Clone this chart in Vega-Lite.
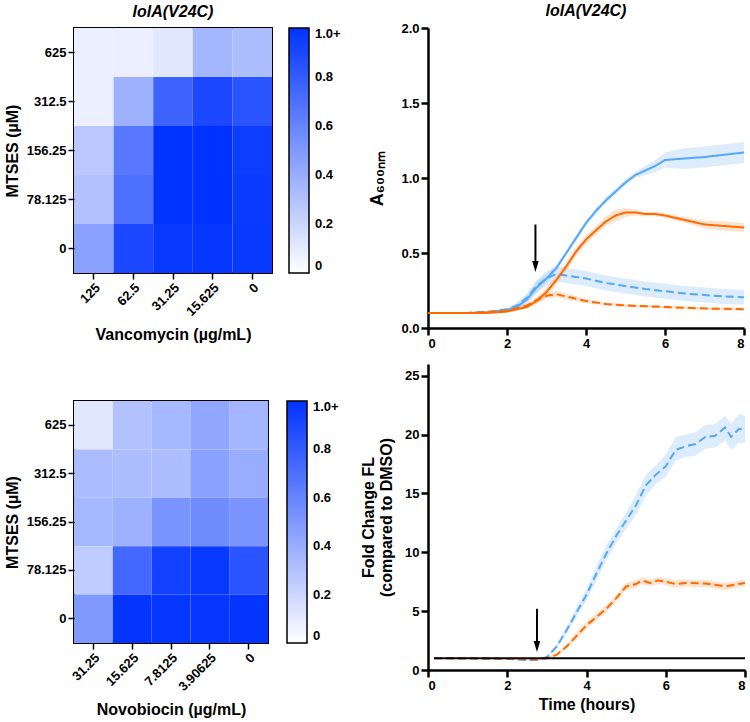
{
  "$schema": "https://vega.github.io/schema/vega-lite/v6.json",
  "padding": {"left": 3, "top": 3, "right": 0, "bottom": 3},
  "background": "white",
  "config": {
    "font": "Liberation Sans",
    "axis": {
      "labelFont": "Liberation Sans", "labelFontWeight": "bold", "labelFontSize": 13, "labelColor": "black",
      "titleFont": "Liberation Sans", "titleFontWeight": "bold", "titleFontSize": 16, "titleColor": "black",
      "tickColor": "black", "domainColor": "black", "grid": false
    },
    "title": {"font": "Liberation Sans", "fontSize": 16, "fontWeight": "bold", "fontStyle": "italic", "color": "black", "frame": "group"},
    "legend": {"labelFont": "Liberation Sans", "labelFontWeight": "bold", "labelFontSize": 13, "labelColor": "black"}
  },
  "datasets": {
    "heat1": [
      {"mtses": "625", "drug": "125", "v": 0.08}, {"mtses": "625", "drug": "62.5", "v": 0.08}, {"mtses": "625", "drug": "31.25", "v": 0.12}, {"mtses": "625", "drug": "15.625", "v": 0.36}, {"mtses": "625", "drug": "0", "v": 0.32},
      {"mtses": "312.5", "drug": "125", "v": 0.08}, {"mtses": "312.5", "drug": "62.5", "v": 0.38}, {"mtses": "312.5", "drug": "31.25", "v": 0.76}, {"mtses": "312.5", "drug": "15.625", "v": 0.9}, {"mtses": "312.5", "drug": "0", "v": 0.84},
      {"mtses": "156.25", "drug": "125", "v": 0.27}, {"mtses": "156.25", "drug": "62.5", "v": 0.66}, {"mtses": "156.25", "drug": "31.25", "v": 1.0}, {"mtses": "156.25", "drug": "15.625", "v": 1.0}, {"mtses": "156.25", "drug": "0", "v": 0.95},
      {"mtses": "78.125", "drug": "125", "v": 0.3}, {"mtses": "78.125", "drug": "62.5", "v": 0.7}, {"mtses": "78.125", "drug": "31.25", "v": 1.0}, {"mtses": "78.125", "drug": "15.625", "v": 1.0}, {"mtses": "78.125", "drug": "0", "v": 0.96},
      {"mtses": "0", "drug": "125", "v": 0.46}, {"mtses": "0", "drug": "62.5", "v": 0.9}, {"mtses": "0", "drug": "31.25", "v": 0.97}, {"mtses": "0", "drug": "15.625", "v": 0.98}, {"mtses": "0", "drug": "0", "v": 0.97}
    ],
    "heat2": [
      {"mtses": "625", "drug": "31.25", "v": 0.12}, {"mtses": "625", "drug": "15.625", "v": 0.3}, {"mtses": "625", "drug": "7.8125", "v": 0.35}, {"mtses": "625", "drug": "3.90625", "v": 0.43}, {"mtses": "625", "drug": "0", "v": 0.36},
      {"mtses": "312.5", "drug": "31.25", "v": 0.33}, {"mtses": "312.5", "drug": "15.625", "v": 0.32}, {"mtses": "312.5", "drug": "7.8125", "v": 0.32}, {"mtses": "312.5", "drug": "3.90625", "v": 0.46}, {"mtses": "312.5", "drug": "0", "v": 0.4},
      {"mtses": "156.25", "drug": "31.25", "v": 0.35}, {"mtses": "156.25", "drug": "15.625", "v": 0.38}, {"mtses": "156.25", "drug": "7.8125", "v": 0.52}, {"mtses": "156.25", "drug": "3.90625", "v": 0.56}, {"mtses": "156.25", "drug": "0", "v": 0.52},
      {"mtses": "78.125", "drug": "31.25", "v": 0.25}, {"mtses": "78.125", "drug": "15.625", "v": 0.74}, {"mtses": "78.125", "drug": "7.8125", "v": 0.93}, {"mtses": "78.125", "drug": "3.90625", "v": 0.97}, {"mtses": "78.125", "drug": "0", "v": 0.84},
      {"mtses": "0", "drug": "31.25", "v": 0.5}, {"mtses": "0", "drug": "15.625", "v": 0.99}, {"mtses": "0", "drug": "7.8125", "v": 0.98}, {"mtses": "0", "drug": "3.90625", "v": 0.98}, {"mtses": "0", "drug": "0", "v": 0.99}
    ],
    "od": [
      {"s": "bs", "t": 0, "y": 0.10, "lo": 0.095, "hi": 0.105}, {"s": "bs", "t": 1, "y": 0.10, "lo": 0.095, "hi": 0.105}, {"s": "bs", "t": 1.5, "y": 0.105, "lo": 0.1, "hi": 0.11}, {"s": "bs", "t": 2, "y": 0.12, "lo": 0.11, "hi": 0.13}, {"s": "bs", "t": 2.25, "y": 0.14, "lo": 0.12, "hi": 0.16}, {"s": "bs", "t": 2.5, "y": 0.19, "lo": 0.16, "hi": 0.22}, {"s": "bs", "t": 2.75, "y": 0.27, "lo": 0.23, "hi": 0.31}, {"s": "bs", "t": 3, "y": 0.33, "lo": 0.3, "hi": 0.36}, {"s": "bs", "t": 3.25, "y": 0.4, "lo": 0.38, "hi": 0.42}, {"s": "bs", "t": 3.5, "y": 0.5, "lo": 0.48, "hi": 0.52}, {"s": "bs", "t": 3.75, "y": 0.6, "lo": 0.58, "hi": 0.62}, {"s": "bs", "t": 4, "y": 0.7, "lo": 0.68, "hi": 0.72}, {"s": "bs", "t": 4.25, "y": 0.78, "lo": 0.76, "hi": 0.8}, {"s": "bs", "t": 4.5, "y": 0.85, "lo": 0.83, "hi": 0.87}, {"s": "bs", "t": 4.75, "y": 0.91, "lo": 0.89, "hi": 0.93}, {"s": "bs", "t": 5, "y": 0.97, "lo": 0.95, "hi": 0.99}, {"s": "bs", "t": 5.25, "y": 1.02, "lo": 1.0, "hi": 1.04}, {"s": "bs", "t": 5.5, "y": 1.05, "lo": 1.02, "hi": 1.08}, {"s": "bs", "t": 5.75, "y": 1.08, "lo": 1.04, "hi": 1.12}, {"s": "bs", "t": 6, "y": 1.12, "lo": 1.07, "hi": 1.17}, {"s": "bs", "t": 6.5, "y": 1.13, "lo": 1.06, "hi": 1.2}, {"s": "bs", "t": 7, "y": 1.14, "lo": 1.07, "hi": 1.21}, {"s": "bs", "t": 7.5, "y": 1.155, "lo": 1.085, "hi": 1.225}, {"s": "bs", "t": 8, "y": 1.17, "lo": 1.1, "hi": 1.24},
      {"s": "bd", "t": 0, "y": 0.10, "lo": 0.095, "hi": 0.105}, {"s": "bd", "t": 1, "y": 0.10, "lo": 0.095, "hi": 0.105}, {"s": "bd", "t": 1.5, "y": 0.105, "lo": 0.1, "hi": 0.11}, {"s": "bd", "t": 2, "y": 0.125, "lo": 0.115, "hi": 0.135}, {"s": "bd", "t": 2.25, "y": 0.15, "lo": 0.13, "hi": 0.17}, {"s": "bd", "t": 2.5, "y": 0.2, "lo": 0.17, "hi": 0.23}, {"s": "bd", "t": 2.75, "y": 0.28, "lo": 0.24, "hi": 0.32}, {"s": "bd", "t": 3, "y": 0.33, "lo": 0.28, "hi": 0.38}, {"s": "bd", "t": 3.25, "y": 0.36, "lo": 0.31, "hi": 0.41}, {"s": "bd", "t": 3.5, "y": 0.35, "lo": 0.3, "hi": 0.4}, {"s": "bd", "t": 4, "y": 0.33, "lo": 0.28, "hi": 0.38}, {"s": "bd", "t": 4.5, "y": 0.3, "lo": 0.25, "hi": 0.35}, {"s": "bd", "t": 5, "y": 0.28, "lo": 0.23, "hi": 0.33}, {"s": "bd", "t": 5.5, "y": 0.26, "lo": 0.21, "hi": 0.31}, {"s": "bd", "t": 6, "y": 0.245, "lo": 0.195, "hi": 0.295}, {"s": "bd", "t": 6.5, "y": 0.23, "lo": 0.18, "hi": 0.28}, {"s": "bd", "t": 7, "y": 0.22, "lo": 0.17, "hi": 0.27}, {"s": "bd", "t": 7.5, "y": 0.21, "lo": 0.16, "hi": 0.26}, {"s": "bd", "t": 8, "y": 0.205, "lo": 0.155, "hi": 0.255},
      {"s": "os", "t": 0, "y": 0.10, "lo": 0.095, "hi": 0.105}, {"s": "os", "t": 1, "y": 0.10, "lo": 0.095, "hi": 0.105}, {"s": "os", "t": 1.5, "y": 0.10, "lo": 0.095, "hi": 0.105}, {"s": "os", "t": 2, "y": 0.11, "lo": 0.1, "hi": 0.12}, {"s": "os", "t": 2.5, "y": 0.14, "lo": 0.13, "hi": 0.15}, {"s": "os", "t": 2.75, "y": 0.18, "lo": 0.16, "hi": 0.2}, {"s": "os", "t": 3, "y": 0.24, "lo": 0.21, "hi": 0.27}, {"s": "os", "t": 3.25, "y": 0.32, "lo": 0.29, "hi": 0.35}, {"s": "os", "t": 3.5, "y": 0.41, "lo": 0.38, "hi": 0.44}, {"s": "os", "t": 3.75, "y": 0.51, "lo": 0.48, "hi": 0.54}, {"s": "os", "t": 4, "y": 0.59, "lo": 0.56, "hi": 0.62}, {"s": "os", "t": 4.25, "y": 0.65, "lo": 0.62, "hi": 0.68}, {"s": "os", "t": 4.5, "y": 0.71, "lo": 0.68, "hi": 0.74}, {"s": "os", "t": 4.75, "y": 0.75, "lo": 0.71, "hi": 0.79}, {"s": "os", "t": 5, "y": 0.77, "lo": 0.74, "hi": 0.8}, {"s": "os", "t": 5.25, "y": 0.77, "lo": 0.75, "hi": 0.79}, {"s": "os", "t": 5.5, "y": 0.76, "lo": 0.745, "hi": 0.775}, {"s": "os", "t": 5.75, "y": 0.76, "lo": 0.745, "hi": 0.775}, {"s": "os", "t": 6, "y": 0.75, "lo": 0.735, "hi": 0.765}, {"s": "os", "t": 6.5, "y": 0.72, "lo": 0.7, "hi": 0.74}, {"s": "os", "t": 7, "y": 0.69, "lo": 0.665, "hi": 0.715}, {"s": "os", "t": 7.5, "y": 0.68, "lo": 0.65, "hi": 0.71}, {"s": "os", "t": 8, "y": 0.67, "lo": 0.64, "hi": 0.7},
      {"s": "odash", "t": 0, "y": 0.10, "lo": 0.095, "hi": 0.105}, {"s": "odash", "t": 1, "y": 0.10, "lo": 0.095, "hi": 0.105}, {"s": "odash", "t": 2, "y": 0.115, "lo": 0.105, "hi": 0.125}, {"s": "odash", "t": 2.5, "y": 0.15, "lo": 0.14, "hi": 0.16}, {"s": "odash", "t": 2.75, "y": 0.185, "lo": 0.165, "hi": 0.205}, {"s": "odash", "t": 3, "y": 0.215, "lo": 0.195, "hi": 0.235}, {"s": "odash", "t": 3.25, "y": 0.225, "lo": 0.205, "hi": 0.245}, {"s": "odash", "t": 3.5, "y": 0.21, "lo": 0.19, "hi": 0.23}, {"s": "odash", "t": 4, "y": 0.18, "lo": 0.165, "hi": 0.195}, {"s": "odash", "t": 4.5, "y": 0.16, "lo": 0.15, "hi": 0.17}, {"s": "odash", "t": 5, "y": 0.15, "lo": 0.14, "hi": 0.16}, {"s": "odash", "t": 6, "y": 0.14, "lo": 0.13, "hi": 0.15}, {"s": "odash", "t": 7, "y": 0.13, "lo": 0.12, "hi": 0.14}, {"s": "odash", "t": 8, "y": 0.125, "lo": 0.115, "hi": 0.135}
    ],
    "fl": [
      {"s": "bd", "t": 0.15, "y": 1.0, "lo": 1.0, "hi": 1.0}, {"s": "bd", "t": 1, "y": 1.0, "lo": 0.95, "hi": 1.05}, {"s": "bd", "t": 2, "y": 0.95, "lo": 0.9, "hi": 1.0}, {"s": "bd", "t": 2.5, "y": 0.85, "lo": 0.8, "hi": 0.9}, {"s": "bd", "t": 2.75, "y": 0.85, "lo": 0.8, "hi": 0.9}, {"s": "bd", "t": 3, "y": 1.1, "lo": 1.0, "hi": 1.2}, {"s": "bd", "t": 3.25, "y": 2.0, "lo": 1.8, "hi": 2.2}, {"s": "bd", "t": 3.5, "y": 3.4, "lo": 3.1, "hi": 3.7}, {"s": "bd", "t": 3.75, "y": 4.9, "lo": 4.5, "hi": 5.3}, {"s": "bd", "t": 4, "y": 6.4, "lo": 5.9, "hi": 6.9}, {"s": "bd", "t": 4.25, "y": 8.2, "lo": 7.6, "hi": 8.8}, {"s": "bd", "t": 4.5, "y": 9.9, "lo": 9.3, "hi": 10.6}, {"s": "bd", "t": 4.75, "y": 11.4, "lo": 10.8, "hi": 12.0}, {"s": "bd", "t": 5, "y": 12.7, "lo": 12.0, "hi": 13.4}, {"s": "bd", "t": 5.25, "y": 14.0, "lo": 13.2, "hi": 14.9}, {"s": "bd", "t": 5.5, "y": 15.7, "lo": 14.8, "hi": 16.6}, {"s": "bd", "t": 5.75, "y": 16.6, "lo": 15.8, "hi": 17.4}, {"s": "bd", "t": 6, "y": 17.3, "lo": 16.4, "hi": 18.3}, {"s": "bd", "t": 6.25, "y": 18.7, "lo": 17.8, "hi": 19.8}, {"s": "bd", "t": 6.5, "y": 19.0, "lo": 18.1, "hi": 20.0}, {"s": "bd", "t": 6.75, "y": 19.2, "lo": 18.2, "hi": 20.2}, {"s": "bd", "t": 7, "y": 19.8, "lo": 18.8, "hi": 20.8}, {"s": "bd", "t": 7.25, "y": 19.9, "lo": 18.9, "hi": 20.9}, {"s": "bd", "t": 7.5, "y": 20.6, "lo": 19.5, "hi": 21.6}, {"s": "bd", "t": 7.65, "y": 19.8, "lo": 18.7, "hi": 20.9}, {"s": "bd", "t": 7.85, "y": 20.5, "lo": 19.3, "hi": 21.8}, {"s": "bd", "t": 8, "y": 20.4, "lo": 19.3, "hi": 21.6},
      {"s": "odash", "t": 0.15, "y": 1.0, "lo": 1.0, "hi": 1.0}, {"s": "odash", "t": 2, "y": 0.95, "lo": 0.9, "hi": 1.0}, {"s": "odash", "t": 2.75, "y": 0.9, "lo": 0.85, "hi": 0.95}, {"s": "odash", "t": 3, "y": 1.0, "lo": 0.9, "hi": 1.1}, {"s": "odash", "t": 3.25, "y": 1.3, "lo": 1.15, "hi": 1.45}, {"s": "odash", "t": 3.5, "y": 2.0, "lo": 1.8, "hi": 2.2}, {"s": "odash", "t": 3.75, "y": 2.9, "lo": 2.6, "hi": 3.2}, {"s": "odash", "t": 4, "y": 3.8, "lo": 3.5, "hi": 4.1}, {"s": "odash", "t": 4.25, "y": 4.5, "lo": 4.2, "hi": 4.8}, {"s": "odash", "t": 4.5, "y": 5.2, "lo": 4.9, "hi": 5.5}, {"s": "odash", "t": 4.75, "y": 6.1, "lo": 5.8, "hi": 6.4}, {"s": "odash", "t": 5, "y": 7.1, "lo": 6.8, "hi": 7.4}, {"s": "odash", "t": 5.25, "y": 7.3, "lo": 7.0, "hi": 7.6}, {"s": "odash", "t": 5.4, "y": 7.6, "lo": 7.3, "hi": 7.9}, {"s": "odash", "t": 5.6, "y": 7.4, "lo": 7.1, "hi": 7.7}, {"s": "odash", "t": 5.8, "y": 7.6, "lo": 7.3, "hi": 7.9}, {"s": "odash", "t": 6, "y": 7.5, "lo": 7.2, "hi": 7.8}, {"s": "odash", "t": 6.25, "y": 7.3, "lo": 7.0, "hi": 7.6}, {"s": "odash", "t": 6.5, "y": 7.4, "lo": 7.1, "hi": 7.7}, {"s": "odash", "t": 7, "y": 7.35, "lo": 7.05, "hi": 7.65}, {"s": "odash", "t": 7.5, "y": 7.1, "lo": 6.8, "hi": 7.4}, {"s": "odash", "t": 8, "y": 7.4, "lo": 7.1, "hi": 7.7},
      {"s": "dmso", "t": 0.15, "y": 1.0, "lo": 1.0, "hi": 1.0}, {"s": "dmso", "t": 8, "y": 1.0, "lo": 1.0, "hi": 1.0}
    ],
    "arrow1": [{"t": 2.72, "top": 0.69, "head": 0.41}],
    "arrow2": [{"t": 2.75, "top": 5.2, "head": 2.0}]
  },
  "hconcat": [
    {
      "vconcat": [
        {
          "data": {"name": "heat1"},
          "title": {"text": "lolA(V24C)", "offset": 8},
          "width": 198, "height": 245,
          "view": {"stroke": "black", "strokeWidth": 2},
          "mark": {"type": "rect"},
          "encoding": {
            "x": {"field": "drug", "type": "ordinal", "sort": ["125", "62.5", "31.25", "15.625", "0"], "scale": {"paddingInner": 0, "paddingOuter": 0},
              "axis": {"title": "Vancomycin (µg/mL)", "labelAngle": -45, "domain": false, "tickSize": 6, "tickWidth": 1.5, "labelPadding": 2, "titlePadding": 8}},
            "y": {"field": "mtses", "type": "ordinal", "sort": ["625", "312.5", "156.25", "78.125", "0"], "scale": {"paddingInner": 0, "paddingOuter": 0},
              "axis": {"title": "MTSES (µM)", "domain": false, "tickSize": 6, "tickWidth": 1.5, "labelPadding": 2, "titlePadding": 6}},
            "color": {"field": "v", "type": "quantitative", "scale": {"domain": [0, 1], "range": ["#ffffff", "#0033ff"], "interpolate": "rgb"},
              "legend": {"title": null, "orient": "right", "offset": 17, "gradientLength": 245, "gradientThickness": 20, "gradientStrokeColor": "black", "gradientStrokeWidth": 1.5, "values": [0, 0.2, 0.4, 0.6, 0.8, 1], "labelExpr": "datum.value == 1 ? '1.0+' : (datum.value == 0 ? '0' : format(datum.value, '.1f'))", "labelOffset": 6}}
          }
        },
        {
          "data": {"name": "heat2"},
          "width": 194, "height": 242,
          "view": {"stroke": "black", "strokeWidth": 2},
          "mark": {"type": "rect"},
          "encoding": {
            "x": {"field": "drug", "type": "ordinal", "sort": ["31.25", "15.625", "7.8125", "3.90625", "0"], "scale": {"paddingInner": 0, "paddingOuter": 0},
              "axis": {"title": "Novobiocin (µg/mL)", "labelAngle": -45, "domain": false, "tickSize": 6, "tickWidth": 1.5, "labelPadding": 2, "titlePadding": 8}},
            "y": {"field": "mtses", "type": "ordinal", "sort": ["625", "312.5", "156.25", "78.125", "0"], "scale": {"paddingInner": 0, "paddingOuter": 0},
              "axis": {"title": "MTSES (µM)", "domain": false, "tickSize": 6, "tickWidth": 1.5, "labelPadding": 2, "titlePadding": 6}},
            "color": {"field": "v", "type": "quantitative", "scale": {"domain": [0, 1], "range": ["#ffffff", "#0033ff"], "interpolate": "rgb"},
              "legend": {"title": null, "orient": "right", "offset": 19, "gradientLength": 242, "gradientThickness": 20, "gradientStrokeColor": "black", "gradientStrokeWidth": 1.5, "values": [0, 0.2, 0.4, 0.6, 0.8, 1], "labelExpr": "datum.value == 1 ? '1.0+' : (datum.value == 0 ? '0' : format(datum.value, '.1f'))", "labelOffset": 6}}
          }
        }
      ],
      "spacing": 56,
      "resolve": {"scale": {"color": "independent"}, "legend": {"color": "independent"}}
    },
    {
      "vconcat": [
        {
          "title": {"text": "lolA(V24C)", "offset": 3},
          "width": 316, "height": 300,
          "view": {"stroke": null},
          "layer": [
            {
              "data": {"name": "od"},
              "mark": {"type": "area", "opacity": 0.3},
              "encoding": {
                "x": {"field": "t", "type": "quantitative", "scale": {"domain": [0, 8]}, "axis": {"values": [0, 2, 4, 6, 8], "title": null, "domainWidth": 2.5, "tickWidth": 2.5, "tickSize": 7, "labelPadding": 2}},
                "y": {"field": "lo", "type": "quantitative", "scale": {"domain": [0, 2]}, "axis": {"values": [0, 0.5, 1, 1.5, 2], "format": ".1f", "title": "A₆₀₀ₙₘ", "titleFontSize": 18, "domainWidth": 2.5, "tickWidth": 2.5, "tickSize": 7, "labelPadding": 2, "titlePadding": 14}},
                "y2": {"field": "hi"},
                "detail": {"field": "s"},
                "color": {"field": "s", "type": "nominal", "scale": {"domain": ["bs", "bd", "os", "odash"], "range": ["#8fc1f5", "#8fc1f5", "#f7a35a", "#f7a35a"]}, "legend": null}
              }
            },
            {
              "data": {"name": "od"},
              "mark": {"type": "line", "strokeWidth": 2},
              "encoding": {
                "x": {"field": "t", "type": "quantitative"},
                "y": {"field": "y", "type": "quantitative"},
                "stroke": {"field": "s", "type": "nominal", "scale": {"domain": ["bs", "bd", "os", "odash"], "range": ["#55a8f5", "#55a8f5", "#ff6a00", "#ff6a00"]}, "legend": null},
                "strokeDash": {"field": "s", "type": "nominal", "scale": {"domain": ["bs", "bd", "os", "odash"], "range": [[1, 0], [8, 4], [1, 0], [8, 4]]}, "legend": null}
              }
            },
            {
              "data": {"name": "arrow1"},
              "mark": {"type": "rule", "strokeWidth": 2, "color": "black"},
              "encoding": {"x": {"field": "t", "type": "quantitative"}, "y": {"field": "top", "type": "quantitative"}, "y2": {"field": "head"}}
            },
            {
              "data": {"name": "arrow1"},
              "mark": {"type": "point", "shape": "M-0.6,-1L0.6,-1L0,1Z", "filled": true, "color": "black", "size": 121, "opacity": 1},
              "encoding": {"x": {"field": "t", "type": "quantitative"}, "y": {"field": "head", "type": "quantitative"}}
            }
          ],
          "resolve": {"scale": {"color": "independent", "stroke": "independent"}}
        },
        {
          "width": 317, "height": 306,
          "view": {"stroke": null},
          "layer": [
            {
              "data": {"name": "fl"},
              "mark": {"type": "area", "opacity": 0.3},
              "encoding": {
                "x": {"field": "t", "type": "quantitative", "scale": {"domain": [0, 8]}, "axis": {"values": [0, 2, 4, 6, 8], "title": "Time (hours)", "domainWidth": 2.5, "tickWidth": 2.5, "tickSize": 7, "labelPadding": 2, "titlePadding": 4}},
                "y": {"field": "lo", "type": "quantitative", "scale": {"domain": [0, 25]}, "axis": {"values": [0, 5, 10, 15, 20, 25], "title": ["Fold Change FL", "(compared to DMSO)"], "domainWidth": 2.5, "tickWidth": 2.5, "tickSize": 7, "labelPadding": 2, "titlePadding": 10}},
                "y2": {"field": "hi"},
                "detail": {"field": "s"},
                "color": {"field": "s", "type": "nominal", "scale": {"domain": ["bd", "odash", "dmso"], "range": ["#8fc1f5", "#f7a35a", "#ffffff"]}, "legend": null}
              }
            },
            {
              "data": {"name": "fl"},
              "mark": {"type": "line", "strokeWidth": 2},
              "encoding": {
                "x": {"field": "t", "type": "quantitative"},
                "y": {"field": "y", "type": "quantitative"},
                "stroke": {"field": "s", "type": "nominal", "scale": {"domain": ["bd", "odash", "dmso"], "range": ["#55a8f5", "#ff6a00", "#000000"]}, "legend": null},
                "strokeDash": {"field": "s", "type": "nominal", "scale": {"domain": ["bd", "odash", "dmso"], "range": [[8, 4], [8, 4], [1, 0]]}, "legend": null}
              }
            },
            {
              "data": {"name": "arrow2"},
              "mark": {"type": "rule", "strokeWidth": 2, "color": "black"},
              "encoding": {"x": {"field": "t", "type": "quantitative"}, "y": {"field": "top", "type": "quantitative"}, "y2": {"field": "head"}}
            },
            {
              "data": {"name": "arrow2"},
              "mark": {"type": "point", "shape": "M-0.6,-1L0.6,-1L0,1Z", "filled": true, "color": "black", "size": 121, "opacity": 1},
              "encoding": {"x": {"field": "t", "type": "quantitative"}, "y": {"field": "head", "type": "quantitative"}}
            }
          ],
          "resolve": {"scale": {"color": "independent", "stroke": "independent"}}
        }
      ],
      "spacing": 14,
      "resolve": {"scale": {"color": "independent", "stroke": "independent", "strokeDash": "independent"}}
    }
  ],
  "spacing": 18,
  "resolve": {"scale": {"color": "independent", "stroke": "independent", "strokeDash": "independent"}}
}
